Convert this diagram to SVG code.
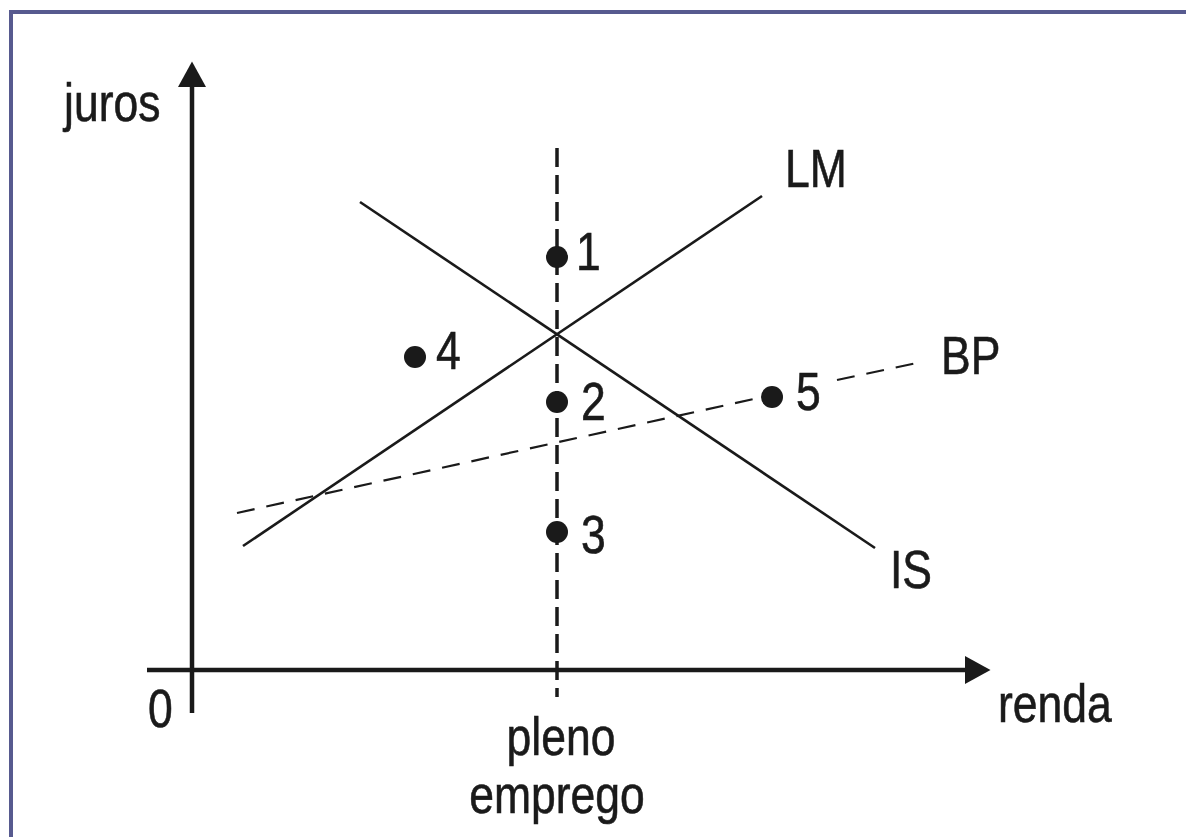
<svg xmlns="http://www.w3.org/2000/svg" width="1186" height="837" viewBox="0 0 1186 837">
  <style>
    .lbl { font-family: "Liberation Sans", Arial, sans-serif; font-size: 53px; fill: #1a1a1a; stroke: #1a1a1a; stroke-width: 0.6; }
    .axis { stroke: #1a1a1a; stroke-width: 4.5; fill: none; }
    .curve { stroke: #1a1a1a; stroke-width: 2.6; fill: none; }
    .bp { stroke: #1a1a1a; stroke-width: 2.2; fill: none; stroke-dasharray: 18 12; }
    .pe { stroke: #1a1a1a; stroke-width: 3.5; fill: none; stroke-dasharray: 19 8; }
    .dot { fill: #1a1a1a; }
  </style>
  <defs>
    <marker id="arrow" markerUnits="userSpaceOnUse" markerWidth="26" markerHeight="30" refX="1" refY="14.5" orient="auto" viewBox="0 0 26 30">
      <path d="M0,0.5 L25.5,14.5 L0,28.5 z" fill="#1a1a1a"/>
    </marker>
  </defs>
  <rect width="1186" height="837" fill="#ffffff"/>
  <path d="M11,837 V12 H1186" fill="none" stroke="#575a8f" stroke-width="4"/>

  <g id="axes">
    <line class="axis" x1="192" y1="713" x2="192" y2="86" marker-end="url(#arrow)"/>
    <line class="axis" x1="147" y1="670" x2="966" y2="670" marker-end="url(#arrow)"/>
  </g>

  <g id="connectors">
    <line id="LM" class="curve" x1="243" y1="546" x2="762" y2="196"/>
    <line id="IS" class="curve" x1="360" y1="202" x2="875" y2="548"/>
    <path id="BP" class="bp" d="M237,513 L772,395 M837,380 L917,363"/>
    <line id="pleno-emprego" class="pe" x1="557" y1="148" x2="557" y2="697"/>
  </g>

  <g id="point-1"><circle class="dot" cx="557" cy="257" r="11"/><text class="lbl" transform="translate(576,270) scale(0.84,1)">1</text></g>
  <g id="point-2"><circle class="dot" cx="557" cy="402" r="11"/><text class="lbl" transform="translate(581,420) scale(0.84,1)">2</text></g>
  <g id="point-3"><circle class="dot" cx="557" cy="532" r="11"/><text class="lbl" transform="translate(581,553) scale(0.84,1)">3</text></g>
  <g id="point-4"><circle class="dot" cx="415" cy="357" r="11"/><text class="lbl" transform="translate(436,369) scale(0.84,1)">4</text></g>
  <g id="point-5"><circle class="dot" cx="772" cy="397" r="11"/><text class="lbl" transform="translate(796,410) scale(0.84,1)">5</text></g>

  <g id="labels">
    <text class="lbl" transform="translate(64,121) scale(0.84,1)">juros</text>
    <text class="lbl" transform="translate(148,727) scale(0.84,1)">0</text>
    <text class="lbl" transform="translate(998,722) scale(0.84,1)">renda</text>
    <text class="lbl" transform="translate(785,187) scale(0.84,1)">LM</text>
    <text class="lbl" transform="translate(941,374) scale(0.84,1)">BP</text>
    <text class="lbl" transform="translate(890,588) scale(0.84,1)">IS</text>
    <text class="lbl" text-anchor="middle" transform="translate(561,755) scale(0.84,1)">pleno</text>
    <text class="lbl" text-anchor="middle" transform="translate(557,813) scale(0.84,1)">emprego</text>
  </g>
</svg>
